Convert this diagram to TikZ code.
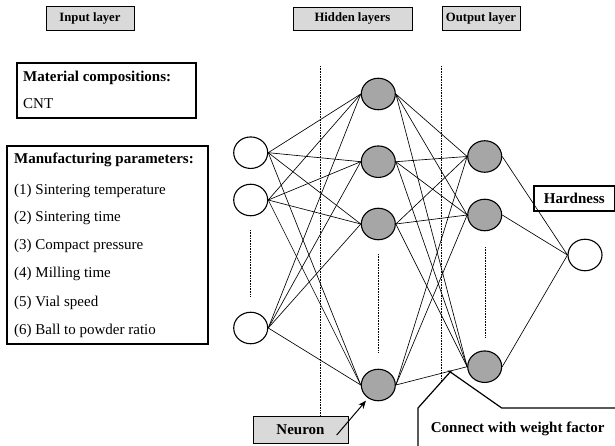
\documentclass[tikz,border=0pt]{standalone}
\usepackage{fontspec}
\setmainfont{Liberation Serif}
\usetikzlibrary{shapes.geometric,arrows.meta,calc}
\definecolor{hidfill}{RGB}{166,166,166}
\definecolor{lblfill}{RGB}{217,217,217}
\begin{document}
\begin{tikzpicture}[x=1pt,y=-1pt,
  inneuron/.style={ellipse,draw,line width=1.1pt,minimum width=34pt,minimum height=31.5pt,inner sep=0pt,fill=white},
  hidneuron/.style={inneuron,fill=hidfill},
  layerlbl/.style={draw,line width=0.9pt,fill=lblfill,font=\fontsize{12.7}{15}\selectfont\bfseries,inner sep=0pt},
  infobox/.style={draw,line width=1.1pt,inner sep=0pt},
  link/.style={line width=0.65pt},
  sepline/.style={line width=0.6pt,dash pattern=on 0.8pt off 0.8pt},
  txt/.style={anchor=base west,inner sep=0pt,font=\fontsize{15}{18}\selectfont},
  btxt/.style={txt,font=\fontsize{15}{18}\selectfont\bfseries}
]
\useasboundingbox (0,0) rectangle (615,446);
\clip (0,0) rectangle (615,446);

% layer titles
\node[layerlbl,minimum width=88pt,minimum height=24pt] (tin) at (90,18) {Input layer};
\node[layerlbl,minimum width=119pt,minimum height=23pt] (thid) at (352.5,18.5) {Hidden layers};
\node[layerlbl,minimum width=78pt,minimum height=24pt] (tout) at (481,18) {Output layer};

% input description boxes
\node[infobox,minimum width=179pt,minimum height=55pt] (matbox) at (106.5,90.5) {};
\node[btxt] (mat1) at (23,82) {Material compositions:};
\node[txt] (mat2) at (23,109) {CNT};

\node[infobox,minimum width=201pt,minimum height=198pt] (manbox) at (107.5,245) {};
\node[btxt] (man0) at (14,164) {Manufacturing parameters:};
\node[txt] (man1) at (14,194.3) {(1) Sintering temperature};
\node[txt] (man2) at (14,221.7) {(2) Sintering time};
\node[txt] (man3) at (14,250) {(3) Compact pressure};
\node[txt] (man4) at (14,277.7) {(4) Milling time};
\node[txt] (man5) at (14,306.7) {(5) Vial speed};
\node[txt] (man6) at (14,334) {(6) Ball to powder ratio};

% separators
\draw[sepline] (320.7,66) -- (320.7,416);
\draw[sepline] (441,66) -- (441,408);
\draw[sepline] (250.7,230) -- (250.7,297);
\draw[sepline] (378,254) -- (378,352);
\draw[sepline] (485.7,247) -- (485.7,338);

% neurons
\node[inneuron] (I1) at (250.7,152.7) {};
\node[inneuron] (I2) at (250.7,200) {};
\node[inneuron] (I3) at (250.7,328) {};
\node[hidneuron] (A1) at (378.3,94) {};
\node[hidneuron] (A2) at (378.3,161.7) {};
\node[hidneuron] (A3) at (378.3,224) {};
\node[hidneuron] (A4) at (378.3,385) {};
\node[hidneuron] (B1) at (484.7,156.5) {};
\node[hidneuron] (B2) at (484.7,215) {};
\node[hidneuron] (B3) at (484.7,366.7) {};
\node[inneuron] (O) at (585,255) {};

% connections
\foreach \i in {I1,I2,I3}
  \foreach \h in {A1,A2,A3,A4}
    \draw[link] (\i.east) -- (\h.west);
\foreach \h in {A1,A2,A3,A4}
  \foreach \b in {B1,B2,B3}
    \draw[link] (\h.east) -- (\b.west);
\foreach \b in {B1,B2,B3}
  \draw[link] (\b.east) -- (O.west);

% output label
\node[infobox,minimum width=80.5pt,minimum height=25pt,font=\fontsize{15}{18}\selectfont\bfseries] (hard) at (574.25,198.5) {Hardness};

% neuron callout
\node[draw,line width=0.9pt,fill=lblfill,inner sep=0pt,minimum width=95pt,minimum height=27pt,font=\fontsize{15}{18}\selectfont\bfseries] (neuron) at (300.5,429.5) {Neuron};
\coordinate (nstart) at (336.7,435);
\coordinate (ntip) at (366,400.7);
\draw[line width=1pt,-{Stealth[length=8pt,width=6.5pt]}] (nstart) -- (ntip);

% weight callout
\coordinate (wtip) at ($(A4.east)!0.75!(B3.west)$);
\draw[line width=1.2pt,fill=white,line join=miter] (418,450) -- (418,408) -- ($(wtip)+(1.5,0)$ |- 0,408) -- (wtip) -- (501.7,408) -- (620,408) -- (620,450) -- cycle;
\node[btxt] (wtxt) at (430.7,432.7) {Connect with weight factor};
\end{tikzpicture}
\end{document}
